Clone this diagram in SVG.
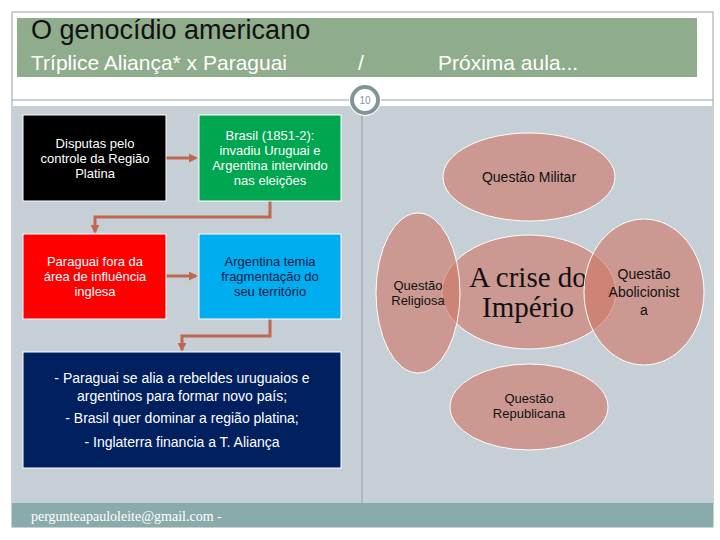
<svg xmlns="http://www.w3.org/2000/svg" width="720" height="540" viewBox="0 0 720 540">
<defs>
<style>
.s{font-family:"Liberation Sans",Arial,sans-serif}
.b{font-size:13px;fill:#fff;text-anchor:middle}
.e{fill:#cf7462;fill-opacity:0.6;stroke:#fff;stroke-width:1}
.q{font-size:14px;fill:#111;text-anchor:middle}
.c{fill:none;stroke:#c0684f;stroke-width:3}
</style>
<marker id="a" viewBox="0 0 10 10" refX="8" refY="5" markerWidth="3" markerHeight="3" orient="auto"><path d="M0,0L10,5L0,10z" fill="#c0684f"/></marker>
</defs>
<rect width="720" height="540" fill="#fff"/>
<rect x="12" y="12" width="701" height="515" fill="#fff" stroke="#8fa2a8"/>
<rect x="17" y="18" width="680" height="59" fill="#8fac8c"/>
<text x="31" y="39" class="s" font-size="27" fill="#111">O genocídio americano</text>
<text x="31" y="70" class="s" font-size="21" fill="#fff">Tríplice Aliança* x Paraguai</text>
<text x="358" y="70" class="s" font-size="21" fill="#fff">/</text>
<text x="438" y="70" class="s" font-size="21" fill="#fff">Próxima aula...</text>
<line x1="12" y1="100" x2="713" y2="100" stroke="#8fa2a8"/>
<rect x="13" y="106" width="699" height="398" fill="#c6cfd6"/>
<line x1="362" y1="106" x2="362" y2="503" stroke="#8fa2a8"/>
<rect x="12" y="503" width="701" height="24" fill="#8aabab"/>
<text x="31" y="521" font-family="Liberation Serif,serif" font-size="14" fill="#fff">pergunteapauloleite@gmail.com -</text>
<g id="page"><circle cx="365" cy="100" r="16" fill="#fff"/><circle cx="365" cy="100" r="13" fill="#fff" stroke="#7f9696" stroke-width="4"/><text x="365" y="104" class="s" font-size="10" fill="#7f9696" text-anchor="middle">10</text></g>
<g id="connectors">
<path class="c" d="M166,158H196" marker-end="url(#a)"/>
<path class="c" d="M270,201V217H95V232" marker-end="url(#a)"/>
<path class="c" d="M166,276H196" marker-end="url(#a)"/>
<path class="c" d="M270,319V336H182V350" marker-end="url(#a)"/>
</g>
<g id="n1"><rect x="23" y="115" width="143" height="86" fill="#000" stroke="#fff"/><text class="s b" x="95" y="148">Disputas pelo</text><text class="s b" x="95" y="163">controle da Região</text><text class="s b" x="95" y="178">Platina</text></g>
<g id="n2"><rect x="199" y="115" width="142" height="86" fill="#00a650" stroke="#fff"/><text class="s b" x="270" y="140">Brasil (1851-2):</text><text class="s b" x="270" y="155">invadiu Uruguai e</text><text class="s b" x="270" y="170">Argentina intervindo</text><text class="s b" x="270" y="185">nas eleições</text></g>
<g id="n3"><rect x="23" y="234" width="143" height="85" fill="#f00" stroke="#fff"/><text class="s b" x="95" y="266">Paraguai fora da</text><text class="s b" x="95" y="281">área de influência</text><text class="s b" x="95" y="296">inglesa</text></g>
<g id="n4"><rect x="199" y="234" width="142" height="85" fill="#00aeef" stroke="#fff"/><text class="s b" x="270" y="266" style="fill:#0d1a4a">Argentina temia</text><text class="s b" x="270" y="281" style="fill:#0d1a4a">fragmentação do</text><text class="s b" x="270" y="296" style="fill:#0d1a4a">seu território</text></g>
<g id="n5"><rect x="23" y="352" width="318" height="116" fill="#002060" stroke="#fff"/><text class="s b" x="182" y="383" style="font-size:14px">- Paraguai se alia a rebeldes uruguaios e</text><text class="s b" x="182" y="401" style="font-size:14px">argentinos para formar novo país;</text><text class="s b" x="182" y="423" style="font-size:14px">- Brasil quer dominar a região platina;</text><text class="s b" x="182" y="447" style="font-size:14px">- Inglaterra financia a T. Aliança</text></g>
<g id="militar"><ellipse class="e" cx="529" cy="177" rx="86" ry="44"/><text class="s q" x="529" y="182">Questão Militar</text></g>
<g id="republicana"><ellipse class="e" cx="529" cy="407" rx="79" ry="43"/><text class="s q" x="529" y="403" style="font-size:13px">Questão</text><text class="s q" x="529" y="418" style="font-size:13px">Republicana</text></g>
<g id="centro"><ellipse class="e" cx="529" cy="292" rx="87" ry="57"/><text x="528" y="287" font-family="Liberation Serif,serif" font-size="29" fill="#111" text-anchor="middle">A crise do</text><text x="528" y="317" font-family="Liberation Serif,serif" font-size="29" fill="#111" text-anchor="middle">Império</text></g>
<g id="religiosa"><ellipse class="e" cx="418" cy="293" rx="42" ry="80"/><text class="s q" x="418" y="290" style="font-size:13px">Questão</text><text class="s q" x="418" y="305" style="font-size:13px">Religiosa</text></g>
<g id="abolicionista"><ellipse class="e" cx="644" cy="292" rx="60" ry="73"/><text class="s q" x="644" y="279">Questão</text><text class="s q" x="644" y="297">Abolicionist</text><text class="s q" x="644" y="315">a</text></g>
</svg>
